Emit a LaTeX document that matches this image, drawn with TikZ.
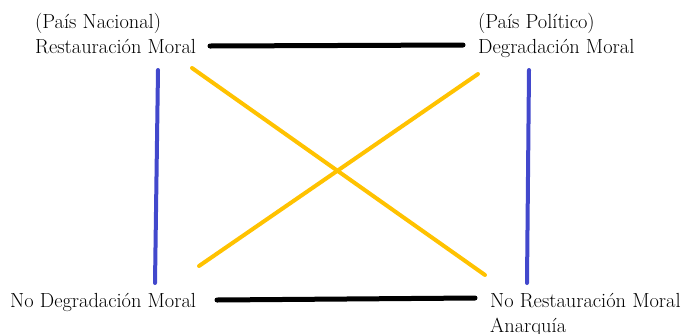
\documentclass[tikz,border=0pt]{standalone}
\usepackage{fontspec}
\definecolor{squareblue}{RGB}{66,72,204}
\definecolor{squareyellow}{RGB}{255,194,0}
\tikzset{
  term/.style={anchor=base west, inner sep=0pt, align=left, font=\fontsize{20.4}{25}\selectfont},
  contrary/.style={line width=5pt, line cap=round, black},
  implication/.style={line width=4pt, line cap=round, squareblue},
  contradiction/.style={line width=4pt, line cap=round, squareyellow}
}
\begin{document}
\begin{tikzpicture}[x=1pt,y=-1pt]
  \useasboundingbox (0,0) rectangle (686,333);

  % Terms of the square (base = last line)
  \node[term] (s1) at (35,53) {(País Nacional)\\Restauración Moral};
  \node[term] (s2) at (478,53) {(País Político)\\Degradación Moral};
  \node[term] (ns2) at (10,307) {No Degradación Moral};
  \node[term] (ns1) at (490,332) {No Restauración Moral\\Anarquía};

  % Line ends
  \coordinate (s1r) at (210,46);
  \coordinate (s2l) at (463,45);
  \coordinate (ns2r) at (217,300);
  \coordinate (ns1l) at (475,298);
  \coordinate (s1d) at (158,70);
  \coordinate (ns2u) at (155,283);
  \coordinate (s2d) at (529,70);
  \coordinate (ns1u) at (527,283);
  \coordinate (s1x) at (192,68);
  \coordinate (ns1x) at (485,275);
  \coordinate (ns2x) at (199,266);
  \coordinate (s2x) at (478,74);

  % Contraries
  \draw[contrary] (s1r) -- (s2l);
  \draw[contrary] (ns2r) -- (ns1l);

  % Implications
  \draw[implication] (s1d) -- (ns2u);
  \draw[implication] (s2d) -- (ns1u);

  % Contradictions
  \draw[contradiction] (s1x) -- (ns1x);
  \draw[contradiction] (ns2x) -- (s2x);
\end{tikzpicture}
\end{document}
